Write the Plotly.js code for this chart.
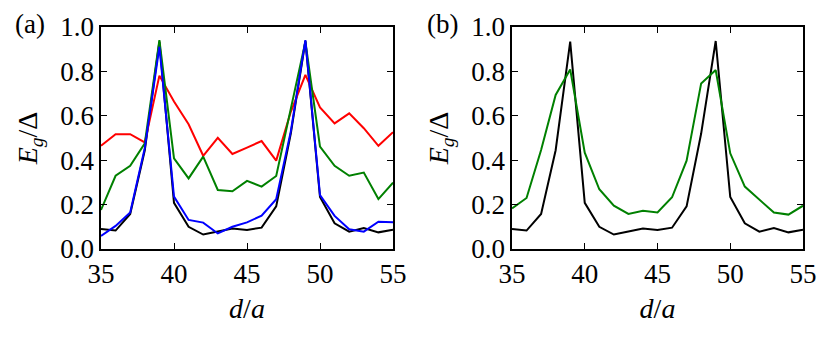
<!DOCTYPE html>
<html>
<head>
<meta charset="utf-8">
<script src="https://cdn.plot.ly/plotly-3.0.1.min.js"></script>
<style>
    html, body { margin: 0; padding: 0; background: #fff; }
    #chart { width: 831px; height: 337px; }
</style>
</head>
<body>
<div id="chart"></div>
<script>
// ---------- Data ---------- //
const dValues = [35, 36, 37, 38, 39, 40, 41, 42, 43, 44, 45, 46, 47, 48, 49, 50, 51, 52, 53, 54, 55];

// panel (a)
const blackA = [0.090, 0.083, 0.158, 0.445, 0.934, 0.208, 0.100, 0.065, 0.079, 0.092, 0.086,
                0.096, 0.192, 0.520, 0.937, 0.234, 0.116, 0.078, 0.094, 0.075, 0.087];
const redA   = [0.465, 0.517, 0.517, 0.480, 0.781, 0.664, 0.562, 0.420, 0.501, 0.428, 0.457,
                0.486, 0.398, 0.618, 0.784, 0.638, 0.566, 0.611, 0.544, 0.465, 0.526];
const greenA = [0.176, 0.330, 0.375, 0.476, 0.941, 0.408, 0.318, 0.416, 0.266, 0.260, 0.307,
                0.281, 0.329, 0.626, 0.934, 0.461, 0.375, 0.330, 0.344, 0.225, 0.299];
const blueA  = [0.059, 0.104, 0.165, 0.455, 0.911, 0.236, 0.131, 0.119, 0.070, 0.100, 0.120,
                0.150, 0.224, 0.530, 0.941, 0.243, 0.149, 0.089, 0.078, 0.123, 0.120];

// panel (b)
const blackB = blackA;
const greenB = [0.183, 0.230, 0.446, 0.694, 0.809, 0.434, 0.269, 0.195, 0.158, 0.172, 0.165,
                0.233, 0.398, 0.746, 0.806, 0.431, 0.281, 0.224, 0.164, 0.155, 0.195];

const xTicks = [35, 40, 45, 50, 55];
const yTicks = [0.0, 0.2, 0.4, 0.6, 0.8, 1.0];
// ---------- End of Data ---------- //

const serif = '"Liberation Serif", "DejaVu Serif", serif';

function line(y, color, xa, ya) {
    return {
        x: dValues, y: y,
        type: 'scatter', mode: 'lines',
        line: { color: color, width: 2 },
        xaxis: xa, yaxis: ya,
        hoverinfo: 'skip',
        showlegend: false
    };
}

const traces = [
    line(blackA, '#000000', 'x', 'y'),
    line(redA, '#ff0000', 'x', 'y'),
    line(greenA, '#008000', 'x', 'y'),
    line(blueA, '#0000ff', 'x', 'y'),
    line(blackB, '#000000', 'x2', 'y2'),
    line(greenB, '#008000', 'x2', 'y2'),
];

function xAxis(domain, anchor) {
    return {
        domain: domain, anchor: anchor,
        range: [35, 55],
        tickvals: xTicks,
        ticks: 'inside', ticklen: 6, tickwidth: 1, tickcolor: '#000',
        showline: true, mirror: 'ticks', linecolor: '#000', linewidth: 1.6,
        showgrid: false, zeroline: false,
        tickfont: { family: serif, size: 27, color: '#000' },
        title: { text: '<i>d</i>/<i>a</i>', font: { family: serif, size: 28, color: '#000' }, standoff: 10 }
    };
}

function yAxis(domain, anchor) {
    return {
        domain: domain, anchor: anchor,
        range: [0, 1],
        tickvals: yTicks, tickformat: '.1f',
        ticks: 'inside', ticklen: 6, tickwidth: 1, tickcolor: '#000',
        showline: true, mirror: 'ticks', linecolor: '#000', linewidth: 1.6,
        showgrid: false, zeroline: false,
        tickfont: { family: serif, size: 27, color: '#000' },
        title: { text: '<i>E</i><sub><i>g</i></sub>/Δ', font: { family: serif, size: 28, color: '#000' }, standoff: 14 }
    };
}

const yDom = [88 / 337, 310 / 337];

const layout = {
    width: 831, height: 337,
    margin: { l: 0, r: 0, t: 0, b: 0 },
    paper_bgcolor: '#ffffff',
    plot_bgcolor: '#ffffff',
    font: { family: serif, color: '#000' },
    xaxis: xAxis([101 / 831, 393 / 831], 'y'),
    yaxis: yAxis(yDom, 'x'),
    xaxis2: xAxis([512 / 831, 803 / 831], 'y2'),
    yaxis2: yAxis(yDom, 'x2'),
    annotations: [
        { text: '(a)', xref: 'paper', yref: 'paper', x: 30 / 831, y: 1 - 24 / 337,
          showarrow: false, xanchor: 'center', yanchor: 'middle',
          font: { family: serif, size: 27, color: '#000' } },
        { text: '(b)', xref: 'paper', yref: 'paper', x: 443 / 831, y: 1 - 24 / 337,
          showarrow: false, xanchor: 'center', yanchor: 'middle',
          font: { family: serif, size: 27, color: '#000' } }
    ]
};

Plotly.newPlot('chart', traces, layout, { displayModeBar: false, staticPlot: true });
</script>
</body>
</html>
